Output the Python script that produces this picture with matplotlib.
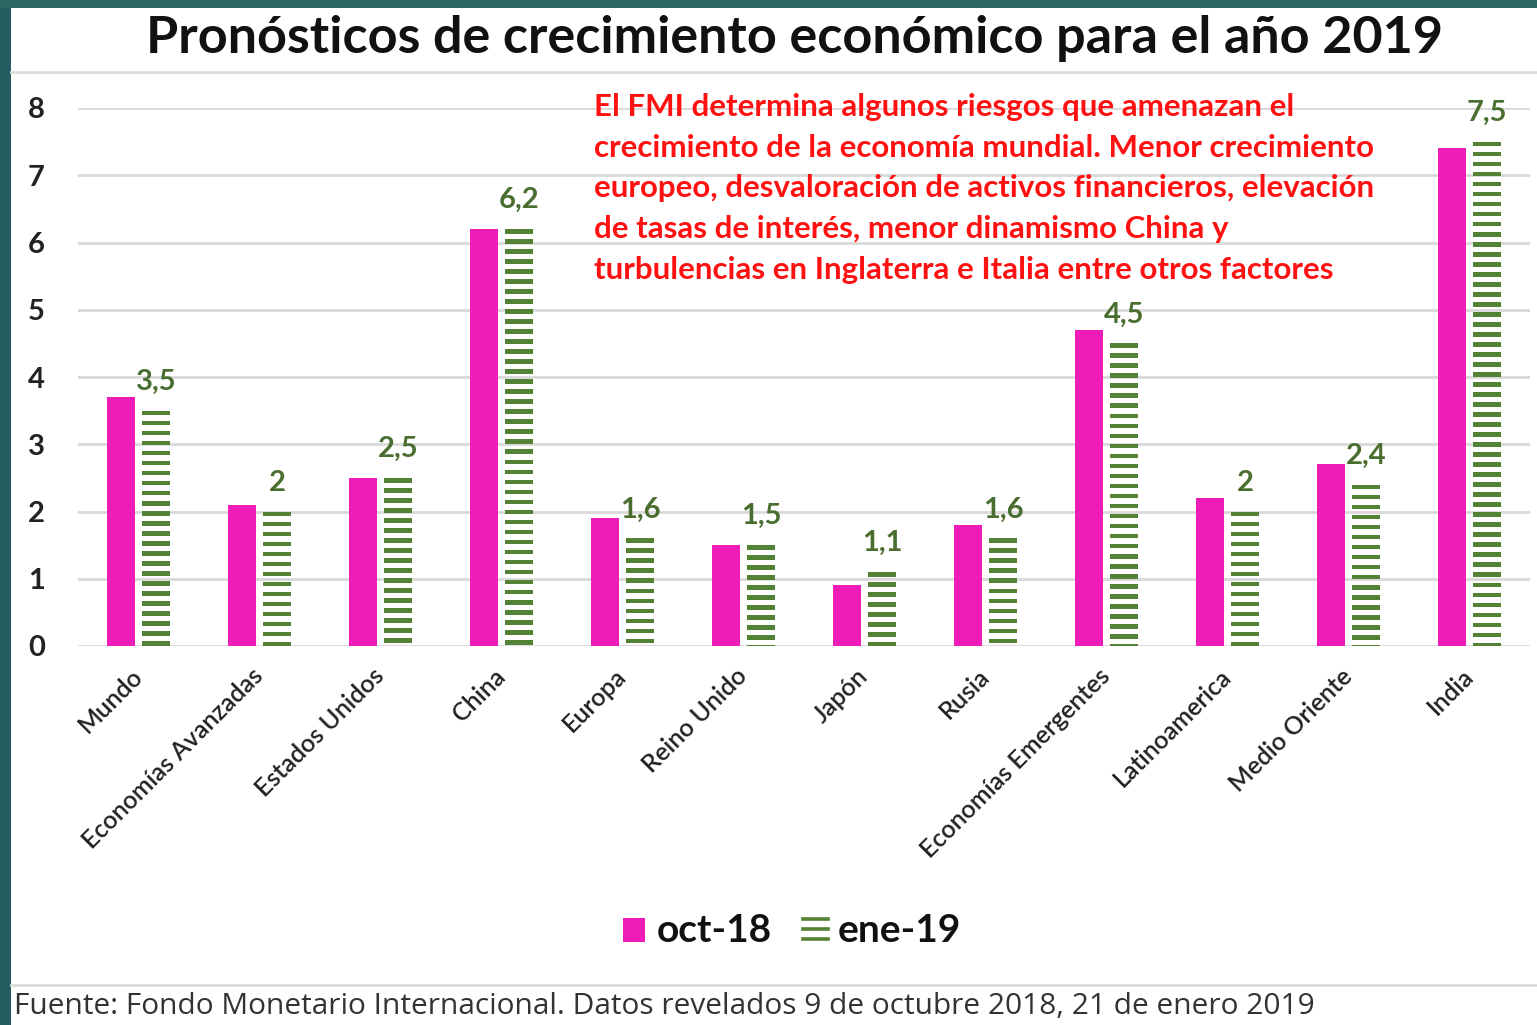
import matplotlib
matplotlib.use("Agg")
import matplotlib.pyplot as plt
import matplotlib.patches as mpatches
import matplotlib.lines as mlines
import numpy as np

CATEGORIES = ["Mundo", "Economías Avanzadas", "Estados Unidos", "China", "Europa",
              "Reino Unido", "Japón", "Rusia", "Economías Emergentes",
              "Latinoamerica", "Medio Oriente", "India"]
OCT_18 = [3.7, 2.1, 2.5, 6.2, 1.9, 1.5, 0.9, 1.8, 4.7, 2.2, 2.7, 7.4]
ENE_19 = [3.5, 2.0, 2.5, 6.2, 1.6, 1.5, 1.1, 1.6, 4.5, 2.0, 2.4, 7.5]
Y_TICKS = [0, 1, 2, 3, 4, 5, 6, 7, 8]

TITLE = "Pronósticos de crecimiento económico para el año 2019"
NOTE = ["El FMI determina algunos riesgos que amenazan el",
        "crecimiento de la economía mundial. Menor crecimiento",
        "europeo, desvaloración de activos financieros, elevación",
        "de tasas de interés, menor dinamismo China y",
        "turbulencias en Inglaterra e Italia entre otros factores"]
SOURCE = "Fuente: Fondo Monetario Internacional. Datos revelados 9 de octubre 2018, 21 de enero 2019"

PINK = "#f01cb8"
GREEN = "#548235"
LABEL_GREEN = "#4a6e30"
GRID = "#d9d9d9"
TEAL = "#245c5f"
FONT = "Lato"

W, H = 1537, 1025
fig = plt.figure(figsize=(W / 100, H / 100), dpi=100)
fig.patch.set_facecolor("white")


def px(x, y):
    # pixel (from top-left) to figure fraction
    return x / W, 1 - y / H


# frame of the slide: teal strips on the left and top
fig.add_artist(mpatches.Rectangle((0, 0), 11 / W, 1, transform=fig.transFigure,
                                  facecolor=TEAL, edgecolor="none"))
fig.add_artist(mpatches.Rectangle((0, 1 - 8 / H), 1, 8 / H, transform=fig.transFigure,
                                  facecolor="#2d6764", edgecolor="none"))

# rules under the title and above the source
for yy in (72, 985):
    fig.add_artist(mlines.Line2D([11 / W, 1], [1 - yy / H] * 2, transform=fig.transFigure,
                                 color="#dcdcdc", lw=2))

fig.text(*px(794, 38), TITLE, ha="center", va="center", fontsize=37.5,
         fontweight="bold", family=FONT, color="#111111")

l, b = px(78, 646)
r, t = px(1530, 108)
ax = fig.add_axes([l, b, r - l, t - b])
ax.set_xlim(-0.5, len(CATEGORIES) - 0.5)
ax.set_ylim(0, 8)

x = np.arange(len(CATEGORIES))
bw = 0.225
off = 0.145

ax.bar(x - off, OCT_18, width=bw, color=PINK, zorder=3)

# ene-19: bars made of horizontal stripes
period = 0.149
thick = 0.07
for xi, v in zip(x, ENE_19):
    tops = np.arange(v, 0, -period)
    bottoms = np.clip(tops - thick, 0, None)
    ax.bar(np.full(len(tops), xi + off), tops - bottoms, bottom=bottoms,
           width=0.235, color=GREEN, zorder=3)
    ax.annotate(f"{v:g}".replace(".", ","), (xi + off, v), xytext=(0, 15),
                textcoords="offset points", ha="center", va="baseline",
                fontsize=21, fontweight="bold", family=FONT, color=LABEL_GREEN,
                annotation_clip=False)

ax.set_yticks(Y_TICKS)
ax.set_yticklabels([str(v) for v in Y_TICKS], fontsize=21, fontweight="bold",
                   family=FONT, color="#222222")
ax.yaxis.grid(True, color=GRID, lw=2, zorder=0)
ax.set_axisbelow(True)
ax.tick_params(axis="y", length=0, pad=24)
ax.tick_params(axis="x", length=0, pad=19)
ax.set_xticks(x)
ax.set_xticklabels(CATEGORIES, rotation=45, ha="right", va="center",
                   rotation_mode="anchor", fontsize=18, family=FONT,
                   fontweight="semibold", color="#222222")
for s in ax.spines.values():
    s.set_visible(False)

# annotation in red
for i, line in enumerate(NOTE):
    fig.text(*px(594, 107 + i * 40.7), line, ha="left", va="center", fontsize=22.5,
             fontweight="bold", family=FONT, color="#ff1111")

# legend drawn by hand
fig.add_artist(mpatches.Rectangle(px(623, 942), 22 / W, 24 / H, transform=fig.transFigure,
                                  facecolor=PINK, edgecolor="none"))
fig.text(*px(657, 930), "oct-18", ha="left", va="center", fontsize=28,
         fontweight="bold", family=FONT, color="#111111")
for yy in (919, 929, 939):
    fig.add_artist(mlines.Line2D([803 / W, 828 / W], [1 - yy / H] * 2,
                                 transform=fig.transFigure, color=GREEN, lw=2.6))
fig.text(*px(838, 930), "ene-19", ha="left", va="center", fontsize=28,
         fontweight="bold", family=FONT, color="#111111")

fig.text(*px(14, 1006), SOURCE, ha="left", va="center", fontsize=21.5,
         family="Open Sans", color="#333333")

fig.savefig("out.png", dpi=100)
